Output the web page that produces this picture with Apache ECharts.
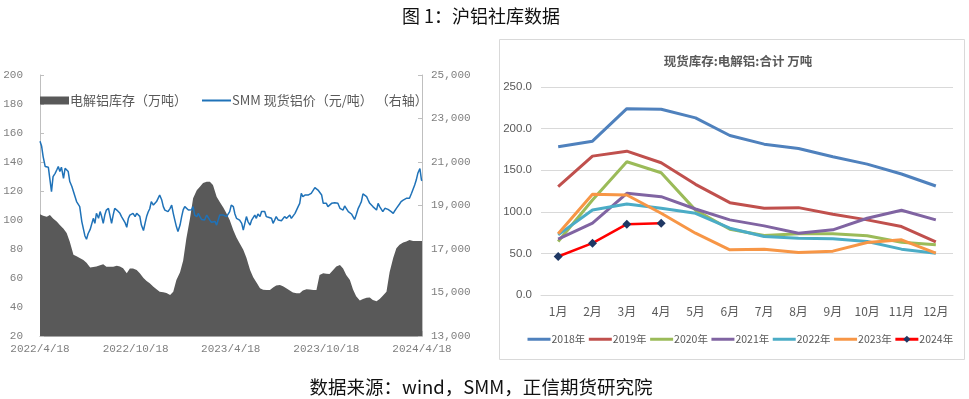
<!DOCTYPE html>
<html>
<head>
<meta charset="utf-8">
<script src="https://cdn.jsdelivr.net/npm/echarts@6/dist/echarts.min.js"></script>
<style>
  html, body { margin: 0; padding: 0; background: #fff; }
  #main { width: 969px; height: 399px; }
</style>
</head>
<body>
<div id="main"></div>
<script>
// left panel: sample dates
const dates = [
  '2022-04-18', '2022-04-21', '2022-04-24', '2022-04-28',
  '2022-05-01', '2022-05-04', '2022-05-07', '2022-05-10', '2022-05-13', '2022-05-17', '2022-05-20', '2022-05-23', '2022-05-26', '2022-05-29',
  '2022-06-02', '2022-06-05', '2022-06-08', '2022-06-11', '2022-06-14', '2022-06-18', '2022-06-21', '2022-06-24', '2022-06-27', '2022-06-30',
  '2022-07-03', '2022-07-07', '2022-07-10', '2022-07-13', '2022-07-16', '2022-07-19', '2022-07-23', '2022-07-26', '2022-07-29',
  '2022-08-01', '2022-08-04', '2022-08-08', '2022-08-11', '2022-08-14', '2022-08-17', '2022-08-20', '2022-08-23', '2022-08-27', '2022-08-30',
  '2022-09-02', '2022-09-05', '2022-09-08', '2022-09-12', '2022-09-15', '2022-09-18', '2022-09-21', '2022-09-24', '2022-09-28',
  '2022-10-01', '2022-10-04', '2022-10-07', '2022-10-10', '2022-10-13', '2022-10-17', '2022-10-20', '2022-10-23', '2022-10-26', '2022-10-29',
  '2022-11-02', '2022-11-05', '2022-11-08', '2022-11-11', '2022-11-14', '2022-11-17', '2022-11-21', '2022-11-24', '2022-11-27', '2022-11-30',
  '2022-12-03', '2022-12-07', '2022-12-10', '2022-12-13', '2022-12-16', '2022-12-19', '2022-12-23', '2022-12-26', '2022-12-29',
  '2023-01-01', '2023-01-04', '2023-01-07', '2023-01-11', '2023-01-14', '2023-01-17', '2023-01-20', '2023-01-23', '2023-01-27', '2023-01-30',
  '2023-02-02', '2023-02-05', '2023-02-08', '2023-02-12', '2023-02-15', '2023-02-18', '2023-02-21', '2023-02-24', '2023-02-27',
  '2023-03-03', '2023-03-06', '2023-03-09', '2023-03-12', '2023-03-15', '2023-03-19', '2023-03-22', '2023-03-25', '2023-03-28', '2023-03-31',
  '2023-04-04', '2023-04-07', '2023-04-10', '2023-04-13', '2023-04-16', '2023-04-19', '2023-04-23', '2023-04-26', '2023-04-29',
  '2023-05-02', '2023-05-05', '2023-05-09', '2023-05-12', '2023-05-15', '2023-05-18', '2023-05-21', '2023-05-25', '2023-05-28', '2023-05-31',
  '2023-06-03', '2023-06-06', '2023-06-09', '2023-06-13', '2023-06-16', '2023-06-19', '2023-06-22', '2023-06-25', '2023-06-29',
  '2023-07-02', '2023-07-05', '2023-07-08', '2023-07-11', '2023-07-14', '2023-07-18', '2023-07-21', '2023-07-24', '2023-07-27', '2023-07-30',
  '2023-08-03', '2023-08-06', '2023-08-09', '2023-08-12', '2023-08-15', '2023-08-19', '2023-08-22', '2023-08-25', '2023-08-28', '2023-08-31',
  '2023-09-03', '2023-09-07', '2023-09-10', '2023-09-13', '2023-09-16', '2023-09-19', '2023-09-23', '2023-09-26', '2023-09-29',
  '2023-10-02', '2023-10-05', '2023-10-09', '2023-10-12', '2023-10-15', '2023-10-18', '2023-10-21', '2023-10-24', '2023-10-28', '2023-10-31',
  '2023-11-03', '2023-11-06', '2023-11-09', '2023-11-13', '2023-11-16', '2023-11-19', '2023-11-22', '2023-11-25', '2023-11-29',
  '2023-12-02', '2023-12-05', '2023-12-08', '2023-12-11', '2023-12-14', '2023-12-18', '2023-12-21', '2023-12-24', '2023-12-27', '2023-12-30',
  '2024-01-03', '2024-01-06', '2024-01-09', '2024-01-12', '2024-01-15', '2024-01-18', '2024-01-22', '2024-01-25', '2024-01-28', '2024-01-31',
  '2024-02-03', '2024-02-07', '2024-02-10', '2024-02-13', '2024-02-16', '2024-02-19', '2024-02-23', '2024-02-26', '2024-02-29',
  '2024-03-03', '2024-03-06', '2024-03-09', '2024-03-13', '2024-03-16', '2024-03-19', '2024-03-22', '2024-03-25', '2024-03-29',
  '2024-04-01', '2024-04-04', '2024-04-07', '2024-04-10', '2024-04-14', '2024-04-17', '2024-04-18'
]

// SMM spot aluminium price, yuan/t (right axis)
const price = [
  21950, 21740, 21250, 20790,
  20780, 20755, 20710, 19640, 20330, 20480, 20630, 20790, 20560, 20760,
  20250, 20710, 20790, 20560, 20100, 19870, 19790, 19410, 19180, 19250,
  18950, 18260, 18300, 17600, 17450, 17700, 17900, 17950, 18410,
  18180, 18640, 18410, 18720, 18490, 18180, 18560, 18790, 18870, 18950,
  18180, 18560, 18870, 18790, 18720, 18640, 18490, 18420, 18200,
  18000, 18400, 18560, 18600, 18640, 18490, 18640, 18600, 18500, 18100,
  17850, 18180, 18490, 18700, 18850, 19180, 19020, 18950, 19180, 19330,
  19480, 19250, 18950, 18790, 18870, 18720, 18870, 19020, 18640,
  18330, 18030, 17800, 18100, 18480, 18800, 18950, 18870, 18790, 18720,
  18800, 18950, 18560, 18490, 18640, 18490, 18360, 18410, 18330,
  18560, 18490, 18330, 18230, 18180, 18260, 18100, 18330, 18560, 18640,
  18560, 18640, 18490, 18410, 18720, 19020, 18950, 18610, 18410,
  18490, 18330, 18180, 17870, 18180, 18490, 18260, 18100, 18330, 18410,
  18560, 18410, 18610, 18490, 18720, 18790, 18720, 18490, 18460,
  18410, 18410, 18180, 18330, 18490, 18330, 18260, 18300, 18330, 18490,
  18410, 18490, 18560, 18410, 18490, 18640, 18720, 18950, 19100, 19560,
  19410, 19480, 19410, 19480, 19440, 19560, 19710, 19820, 19790,
  19710, 19640, 19480, 19100, 19020, 19100, 18950, 19020, 19100, 19070,
  19130, 19180, 19100, 18870, 18950, 18790, 18980, 18870, 18720,
  18640, 18610, 18490, 18360, 18560, 18870, 19020, 19180, 19530, 19480,
  19410, 19250, 19100, 19020, 18950, 18870, 18790, 19100, 18950, 18870,
  18720, 18870, 18790, 18820, 18790, 18720, 18640, 18760, 18870,
  18950, 19070, 19180, 19250, 19280, 19330, 19410, 19330, 19560,
  19640, 19940, 20170, 20480, 20700, 20170, 20140
]

// electrolytic aluminium social inventory, 10k t (every other date)
const stock = [
  104, 103, 102.3, 103.4, 101, 99, 96.5, 94, 91, 85,
  76, 75, 73.8, 72.4, 70.5, 67.3, 67.6, 68, 68.8, 69.4,
  67.8, 67.8, 67.8, 68.5, 68, 66.7, 63.2, 66.5, 66.5, 65.5,
  63.2, 60, 58, 56.3, 54, 52.2, 50.6, 50.2, 49.6, 48.3,
  50.6, 58.6, 64, 72, 87, 101, 115, 120.5, 123, 125.5,
  126.4, 126.4, 124.1, 116, 112.5, 108.5, 104.5, 100, 93, 88,
  83.9, 79.5, 74, 65.5, 60.5, 57, 52.9, 51.9, 51.7, 51.7,
  53.5, 54.8, 55.2, 54.3, 52.8, 51.3, 50, 49.5, 49.5, 51.3,
  52.2, 52, 51.7, 51.7, 62.1, 63.2, 63, 62.8, 65.5, 68,
  69, 66.5, 62, 58.6, 52, 47.5, 44.4, 45.5, 46.3, 46.5,
  44.8, 44, 45.5, 47.8, 50.5, 64, 74, 80.5, 83, 84.5,
  85.1, 86.2, 85.5, 85.5, 85.5, 85.5
]
const stockDates = dates.filter((d, i) => i % 2 === 0)

const xTicks = ['2022-04-18', '2022-10-18', '2023-04-18', '2023-10-18', '2024-04-18']

// right panel: monthly inventory by year
const months = ['1月', '2月', '3月', '4月', '5月', '6月', '7月', '8月', '9月', '10月', '11月', '12月']
const years = ['2018年', '2019年', '2020年', '2021年', '2022年', '2023年', '2024年']
const y2018 = [178.1, 184.9, 224, 223.2, 212.9, 191.7, 181.3, 176.1, 166.1, 157.3, 145.4, 131]
const y2019 = [130.2, 166.9, 172.9, 158.9, 133, 111, 104.2, 105, 97, 90.3, 82.3, 63.9]
const y2020 = [64.3, 114.2, 160.1, 147, 102, 79.1, 71.5, 73.5, 73.5, 71.1, 63.5, 60.3]
const y2021 = [67.1, 86.3, 122.2, 118.2, 103.4, 90.3, 83.1, 74.3, 78.3, 92.2, 101.8, 90.3]
const y2022 = [72.3, 102.2, 109.4, 104.2, 98.2, 80.3, 70.3, 68.3, 67.5, 64.3, 55.1, 50.3]
const y2023 = [73.5, 121, 120.2, 98.2, 74.3, 54.3, 55.1, 51.1, 52.7, 63.1, 66.3, 50.3]
const y2024 = [46.3, 62.3, 85.1, 86.3]
const yearColors = ['#4f81bd', '#c0504d', '#9bbb59', '#8064a2', '#4bacc6', '#f79646', '#ff0000']

const toTime = (s) => echarts.time.parse(s).getTime()
const monoFont = '"Liberation Mono", monospace'
const cjkFont = '"Noto Sans CJK SC", sans-serif'

const chart = echarts.init(document.getElementById('main'))

const yearSeries = [y2018, y2019, y2020, y2021, y2022, y2023, y2024].map((vals, i) => ({
  name: years[i],
  type: 'line',
  xAxisIndex: 1,
  yAxisIndex: 2,
  data: vals,
  symbol: i === 6 ? 'diamond' : 'none',
  symbolSize: 9,
  showSymbol: i === 6,
  lineStyle: { color: yearColors[i], width: i === 6 ? 2.5 : 3 },
  itemStyle: { color: i === 6 ? '#1f3864' : yearColors[i] },
  z: 10 + i,
}))

// legend entries: plain line (no marker) except 2024
const yearLegend = years.map((y, i) => (i === 6 ? { name: y } : { name: y, itemStyle: { opacity: 0 } }))

const option = {
  animation: false,
  title: [
    {
      text: '图 1：沪铝社库数据',
      left: 476, top: 2, textAlign: 'center',
      textStyle: { fontFamily: cjkFont, fontSize: 18, fontWeight: 'normal', color: '#111' },
    },
    {
      text: '数据来源：wind，SMM，正信期货研究院',
      left: 476, top: 373, textAlign: 'center',
      textStyle: { fontFamily: cjkFont, fontSize: 18.5, fontWeight: 'normal', color: '#111' },
    },
    {
      text: '现货库存:电解铝:合计 万吨',
      left: 733, top: 50, textAlign: 'center',
      textStyle: { fontFamily: cjkFont, fontSize: 12.5, fontWeight: 'bold', color: '#595959' },
    },
  ],
  legend: [
    {
      left: 40, top: 94, padding: 0, itemGap: 14, itemWidth: 29, itemHeight: 8,
      textStyle: { fontFamily: cjkFont, fontSize: 13, color: '#595959', padding: [0, 0, 0, -4] },
      data: [
        { name: '电解铝库存（万吨）', icon: 'rect' },
        { name: 'SMM 现货铝价（元/吨） （右轴）', itemStyle: { opacity: 0 } },
      ],
    },
    {
      left: 526, top: 334, padding: 0, itemGap: 2, itemWidth: 23, itemHeight: 9,
      lineStyle: { width: 3 },
      textStyle: { fontFamily: cjkFont, fontSize: 10.5, color: '#595959', padding: [0, 0, 0, -4] },
      data: yearLegend,
    },
  ],
  grid: [
    { left: 40, top: 75, width: 382, height: 261 },
    { left: 541, top: 87, width: 412, height: 208 },
  ],
  graphic: [
    {
      type: 'rect', silent: true,
      shape: { x: 499.5, y: 39.5, width: 465, height: 320 },
      style: { fill: 'none', stroke: '#d9d9d9', lineWidth: 1 },
    },
  ],
  xAxis: [
    {
      // dates as timestamps on a value axis so the five labels sit on exact dates
      type: 'value', gridIndex: 0,
      min: toTime(xTicks[0]), max: toTime(xTicks[xTicks.length - 1]),
      axisLine: { lineStyle: { color: '#a6a6a6' } },
      axisTick: { inside: true, length: 5, lineStyle: { color: '#a6a6a6' }, customValues: xTicks.map(toTime) },
      axisLabel: {
        customValues: xTicks.map(toTime), margin: 8, hideOverlap: false,
        fontFamily: monoFont, fontSize: 11, color: '#7f7f7f',
        formatter: (v) => { const d = new Date(v); return d.getFullYear() + '/' + (d.getMonth() + 1) + '/' + d.getDate() },
      },
      splitLine: { show: false },
    },
    {
      type: 'category', gridIndex: 1, data: months,
      axisLine: { lineStyle: { color: '#d9d9d9' } },
      axisTick: { show: false },
      axisLabel: { margin: 10, fontFamily: cjkFont, fontSize: 12, color: '#595959' },
    },
  ],
  yAxis: [
    {
      type: 'value', gridIndex: 0, min: 20, max: 200, interval: 20,
      axisLine: { show: true, lineStyle: { color: '#bfbfbf' } },
      axisTick: { show: true, inside: true, length: 4, lineStyle: { color: '#bfbfbf' } },
      axisLabel: { margin: 17, fontFamily: monoFont, fontSize: 11, color: '#7f7f7f' },
      splitLine: { show: false },
    },
    {
      type: 'value', gridIndex: 0, position: 'right', min: 13000, max: 25000, interval: 2000,
      axisLine: { show: true, lineStyle: { color: '#bfbfbf' } },
      axisTick: { show: true, inside: true, length: 4, lineStyle: { color: '#bfbfbf' } },
      axisLabel: {
        margin: 9, fontFamily: monoFont, fontSize: 11, color: '#7f7f7f',
        formatter: (v) => v.toLocaleString('en-US'),
      },
      splitLine: { show: false },
    },
    {
      type: 'value', gridIndex: 1, min: 0, max: 250, interval: 50,
      axisLine: { show: false },
      axisTick: { show: false },
      axisLabel: { margin: 9, fontFamily: '"Liberation Sans", sans-serif', fontSize: 11.5, color: '#595959', formatter: (v) => v.toFixed(1) },
      splitLine: { lineStyle: { color: '#d9d9d9' } },
    },
  ],
  series: [
    {
      name: '电解铝库存（万吨）',
      type: 'line', xAxisIndex: 0, yAxisIndex: 0,
      data: stockDates.map((d, i) => [toTime(d), stock[i]]),
      symbol: 'none',
      lineStyle: { width: 0, color: '#595959' },
      itemStyle: { color: '#595959' },
      areaStyle: { color: '#595959', opacity: 1, origin: 'start' },
      z: 2,
    },
    {
      name: 'SMM 现货铝价（元/吨） （右轴）',
      type: 'line', xAxisIndex: 0, yAxisIndex: 1,
      data: dates.map((d, i) => [toTime(d), price[i]]),
      symbol: 'none',
      lineStyle: { width: 1.5, color: '#1f72b8' },
      itemStyle: { color: '#1f72b8' },
      z: 3,
    },
    ...yearSeries,
  ],
}

option && chart.setOption(option)
</script>
</body>
</html>
